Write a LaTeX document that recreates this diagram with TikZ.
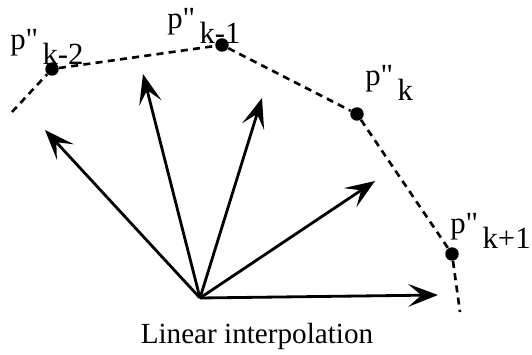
\documentclass[tikz,border=0pt]{standalone}
\usepackage{fontspec}
\setmainfont{Liberation Serif}
\usetikzlibrary{arrows.meta, positioning}

\newcommand{\pname}[1]{p\textquotedbl\hspace{0.14em}\raisebox{-0.48em}{#1}}

\begin{document}
\begin{tikzpicture}[
  x=0.02cm, y=-0.02cm,
  every node/.style={font=\fontsize{16.6}{19}\selectfont},
  dot/.style  ={circle, fill=black, inner sep=0pt, minimum size=0.27cm},
  lbl/.style  ={anchor=base west, inner sep=0pt, font=\fontsize{17.5}{20}\selectfont},
  vec/.style  ={-{Stealth[length=17pt, width=13pt, inset=7.5pt]}, line width=1.6pt},
  poly/.style ={dash pattern=on 4pt off 3pt, line width=1.5pt}
]
\useasboundingbox (0,0) rectangle (532,355);

% points on the polygon
\node[dot] (pkm2) at (52,69)   {};
\node[dot] (pkm1) at (222,45)  {};
\node[dot] (pk)   at (357,114) {};
\node[dot] (pkp1) at (452,254) {};
\coordinate (s0) at (12,112);
\coordinate (s1) at (460,312);

\node[lbl] (lkm2) at (10,50)  {\pname{k-2}};
\node[lbl] (lkm1) at (167,29) {\pname{k-1}};
\node[lbl] (lk)   at (365,86) {\pname{k}};
\node[lbl] (lkp1) at (450,234) {\pname{k+1}};

\draw[poly] (s0) -- (pkm2) -- (pkm1) -- (pk) -- (pkp1) -- (s1);

% vectors
\coordinate (o)  at (200,298);
\coordinate (v1) at (45,130);
\coordinate (v2) at (143,74);
\coordinate (v3) at (262,98);
\coordinate (v4) at (375,181);
\coordinate (v5) at (438,295);

\foreach \v in {v1,v2,v3,v4,v5}{
  \draw[vec] (o) -- (\v);
}

\node[anchor=base] (cap) at (257,343) {Linear interpolation};

\end{tikzpicture}
\end{document}
